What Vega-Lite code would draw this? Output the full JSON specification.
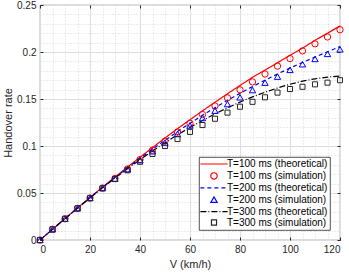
{
 "$schema": "https://vega.github.io/schema/vega-lite/v6.json",
 "width": 300, "height": 235,
 "autosize": {"type": "none"},
 "padding": {"left": 40, "top": 5, "right": 9, "bottom": 33},
 "config": {
  "view": {"stroke": "#262626", "strokeWidth": 0.8},
  "font": "Liberation Sans",
  "axis": {"labelFont": "Liberation Sans", "labelFontSize": 10, "labelColor": "#262626", "titleFont": "Liberation Sans", "titleFontSize": 11, "titleFontWeight": "normal", "titleColor": "#262626", "domain": false, "tickColor": "#262626", "tickSize": -3, "labelPadding": 7, "labelOverlap": false},
  "legend": {"orient": "bottom-right", "offset": 10, "padding": 2, "strokeColor": "#262626", "strokeWidth": 0.8, "fillColor": "white", "labelFont": "Liberation Sans", "labelFontSize": 10, "labelColor": "#000000", "symbolStrokeWidth": 1.2, "symbolSize": 40, "rowPadding": 0.9, "symbolFillColor": "transparent"}
 },
 "data": {"values": [
  {"s":"T=100 ms (theoretical)","V":0,"r":0},{"s":"T=100 ms (theoretical)","V":5,"r":0.0114},{"s":"T=100 ms (theoretical)","V":10,"r":0.0228},{"s":"T=100 ms (theoretical)","V":15,"r":0.0341},{"s":"T=100 ms (theoretical)","V":20,"r":0.0452},{"s":"T=100 ms (theoretical)","V":25,"r":0.0562},{"s":"T=100 ms (theoretical)","V":30,"r":0.067},{"s":"T=100 ms (theoretical)","V":35,"r":0.0776},{"s":"T=100 ms (theoretical)","V":40,"r":0.088},{"s":"T=100 ms (theoretical)","V":45,"r":0.0983},{"s":"T=100 ms (theoretical)","V":50,"r":0.1085},{"s":"T=100 ms (theoretical)","V":55,"r":0.1184},{"s":"T=100 ms (theoretical)","V":60,"r":0.128},{"s":"T=100 ms (theoretical)","V":65,"r":0.1374},{"s":"T=100 ms (theoretical)","V":70,"r":0.1466},{"s":"T=100 ms (theoretical)","V":75,"r":0.1556},{"s":"T=100 ms (theoretical)","V":80,"r":0.1644},{"s":"T=100 ms (theoretical)","V":85,"r":0.173},{"s":"T=100 ms (theoretical)","V":90,"r":0.1808},{"s":"T=100 ms (theoretical)","V":95,"r":0.1886},{"s":"T=100 ms (theoretical)","V":100,"r":0.1964},{"s":"T=100 ms (theoretical)","V":105,"r":0.2041},{"s":"T=100 ms (theoretical)","V":110,"r":0.2124},{"s":"T=100 ms (theoretical)","V":115,"r":0.22},{"s":"T=100 ms (theoretical)","V":120,"r":0.2277},
  {"s":"T=100 ms (simulation)","V":0,"r":0},{"s":"T=100 ms (simulation)","V":5,"r":0.0114},{"s":"T=100 ms (simulation)","V":10,"r":0.0226},{"s":"T=100 ms (simulation)","V":15,"r":0.0337},{"s":"T=100 ms (simulation)","V":20,"r":0.0447},{"s":"T=100 ms (simulation)","V":25,"r":0.0553},{"s":"T=100 ms (simulation)","V":30,"r":0.0655},{"s":"T=100 ms (simulation)","V":35,"r":0.0756},{"s":"T=100 ms (simulation)","V":40,"r":0.0856},{"s":"T=100 ms (simulation)","V":45,"r":0.0956},{"s":"T=100 ms (simulation)","V":50,"r":0.1052},{"s":"T=100 ms (simulation)","V":55,"r":0.1148},{"s":"T=100 ms (simulation)","V":60,"r":0.1242},{"s":"T=100 ms (simulation)","V":65,"r":0.1335},{"s":"T=100 ms (simulation)","V":70,"r":0.1426},{"s":"T=100 ms (simulation)","V":75,"r":0.1512},{"s":"T=100 ms (simulation)","V":80,"r":0.1598},{"s":"T=100 ms (simulation)","V":85,"r":0.1682},{"s":"T=100 ms (simulation)","V":90,"r":0.1766},{"s":"T=100 ms (simulation)","V":95,"r":0.185},{"s":"T=100 ms (simulation)","V":100,"r":0.193},{"s":"T=100 ms (simulation)","V":105,"r":0.2012},{"s":"T=100 ms (simulation)","V":110,"r":0.2087},{"s":"T=100 ms (simulation)","V":115,"r":0.216},{"s":"T=100 ms (simulation)","V":120,"r":0.2237},
  {"s":"T=200 ms (theoretical)","V":0,"r":0},{"s":"T=200 ms (theoretical)","V":5,"r":0.0114},{"s":"T=200 ms (theoretical)","V":10,"r":0.0227},{"s":"T=200 ms (theoretical)","V":15,"r":0.0339},{"s":"T=200 ms (theoretical)","V":20,"r":0.045},{"s":"T=200 ms (theoretical)","V":25,"r":0.0558},{"s":"T=200 ms (theoretical)","V":30,"r":0.0664},{"s":"T=200 ms (theoretical)","V":35,"r":0.0767},{"s":"T=200 ms (theoretical)","V":40,"r":0.0868},{"s":"T=200 ms (theoretical)","V":45,"r":0.0966},{"s":"T=200 ms (theoretical)","V":50,"r":0.1061},{"s":"T=200 ms (theoretical)","V":55,"r":0.1153},{"s":"T=200 ms (theoretical)","V":60,"r":0.1242},{"s":"T=200 ms (theoretical)","V":65,"r":0.1327},{"s":"T=200 ms (theoretical)","V":70,"r":0.1408},{"s":"T=200 ms (theoretical)","V":75,"r":0.1486},{"s":"T=200 ms (theoretical)","V":80,"r":0.156},{"s":"T=200 ms (theoretical)","V":85,"r":0.1632},{"s":"T=200 ms (theoretical)","V":90,"r":0.17},{"s":"T=200 ms (theoretical)","V":95,"r":0.1766},{"s":"T=200 ms (theoretical)","V":100,"r":0.1829},{"s":"T=200 ms (theoretical)","V":105,"r":0.1889},{"s":"T=200 ms (theoretical)","V":110,"r":0.1946},{"s":"T=200 ms (theoretical)","V":115,"r":0.2002},{"s":"T=200 ms (theoretical)","V":120,"r":0.2057},
  {"s":"T=200 ms (simulation)","V":0,"r":0},{"s":"T=200 ms (simulation)","V":5,"r":0.0114},{"s":"T=200 ms (simulation)","V":10,"r":0.0226},{"s":"T=200 ms (simulation)","V":15,"r":0.0337},{"s":"T=200 ms (simulation)","V":20,"r":0.0447},{"s":"T=200 ms (simulation)","V":25,"r":0.0553},{"s":"T=200 ms (simulation)","V":30,"r":0.0653},{"s":"T=200 ms (simulation)","V":35,"r":0.0752},{"s":"T=200 ms (simulation)","V":40,"r":0.0849},{"s":"T=200 ms (simulation)","V":45,"r":0.0944},{"s":"T=200 ms (simulation)","V":50,"r":0.1036},{"s":"T=200 ms (simulation)","V":55,"r":0.1128},{"s":"T=200 ms (simulation)","V":60,"r":0.1218},{"s":"T=200 ms (simulation)","V":65,"r":0.1298},{"s":"T=200 ms (simulation)","V":70,"r":0.1376},{"s":"T=200 ms (simulation)","V":75,"r":0.1446},{"s":"T=200 ms (simulation)","V":80,"r":0.1518},{"s":"T=200 ms (simulation)","V":85,"r":0.1595},{"s":"T=200 ms (simulation)","V":90,"r":0.1674},{"s":"T=200 ms (simulation)","V":95,"r":0.1738},{"s":"T=200 ms (simulation)","V":100,"r":0.181},{"s":"T=200 ms (simulation)","V":105,"r":0.187},{"s":"T=200 ms (simulation)","V":110,"r":0.1926},{"s":"T=200 ms (simulation)","V":115,"r":0.198},{"s":"T=200 ms (simulation)","V":120,"r":0.2028},
  {"s":"T=300 ms (theoretical)","V":0,"r":0},{"s":"T=300 ms (theoretical)","V":5,"r":0.0114},{"s":"T=300 ms (theoretical)","V":10,"r":0.0227},{"s":"T=300 ms (theoretical)","V":15,"r":0.0338},{"s":"T=300 ms (theoretical)","V":20,"r":0.0448},{"s":"T=300 ms (theoretical)","V":25,"r":0.0555},{"s":"T=300 ms (theoretical)","V":30,"r":0.0659},{"s":"T=300 ms (theoretical)","V":35,"r":0.0759},{"s":"T=300 ms (theoretical)","V":40,"r":0.0855},{"s":"T=300 ms (theoretical)","V":45,"r":0.0947},{"s":"T=300 ms (theoretical)","V":50,"r":0.1035},{"s":"T=300 ms (theoretical)","V":55,"r":0.1119},{"s":"T=300 ms (theoretical)","V":60,"r":0.1198},{"s":"T=300 ms (theoretical)","V":65,"r":0.1272},{"s":"T=300 ms (theoretical)","V":70,"r":0.1342},{"s":"T=300 ms (theoretical)","V":75,"r":0.1407},{"s":"T=300 ms (theoretical)","V":80,"r":0.1467},{"s":"T=300 ms (theoretical)","V":85,"r":0.1522},{"s":"T=300 ms (theoretical)","V":90,"r":0.1572},{"s":"T=300 ms (theoretical)","V":95,"r":0.1617},{"s":"T=300 ms (theoretical)","V":100,"r":0.1657},{"s":"T=300 ms (theoretical)","V":105,"r":0.169},{"s":"T=300 ms (theoretical)","V":110,"r":0.1715},{"s":"T=300 ms (theoretical)","V":115,"r":0.1733},{"s":"T=300 ms (theoretical)","V":120,"r":0.1745},
  {"s":"T=300 ms (simulation)","V":0,"r":0},{"s":"T=300 ms (simulation)","V":5,"r":0.0114},{"s":"T=300 ms (simulation)","V":10,"r":0.0226},{"s":"T=300 ms (simulation)","V":15,"r":0.0337},{"s":"T=300 ms (simulation)","V":20,"r":0.0445},{"s":"T=300 ms (simulation)","V":25,"r":0.055},{"s":"T=300 ms (simulation)","V":30,"r":0.0648},{"s":"T=300 ms (simulation)","V":35,"r":0.0742},{"s":"T=300 ms (simulation)","V":40,"r":0.0832},{"s":"T=300 ms (simulation)","V":45,"r":0.0915},{"s":"T=300 ms (simulation)","V":50,"r":0.1},{"s":"T=300 ms (simulation)","V":55,"r":0.1074},{"s":"T=300 ms (simulation)","V":60,"r":0.115},{"s":"T=300 ms (simulation)","V":65,"r":0.1223},{"s":"T=300 ms (simulation)","V":70,"r":0.129},{"s":"T=300 ms (simulation)","V":75,"r":0.1355},{"s":"T=300 ms (simulation)","V":80,"r":0.1418},{"s":"T=300 ms (simulation)","V":85,"r":0.147},{"s":"T=300 ms (simulation)","V":90,"r":0.1518},{"s":"T=300 ms (simulation)","V":95,"r":0.1568},{"s":"T=300 ms (simulation)","V":100,"r":0.1606},{"s":"T=300 ms (simulation)","V":105,"r":0.163},{"s":"T=300 ms (simulation)","V":110,"r":0.1656},{"s":"T=300 ms (simulation)","V":115,"r":0.1674},{"s":"T=300 ms (simulation)","V":120,"r":0.17}
 ]},
 "layer": [
  {
   "transform": [{"filter": "indexof(datum.s, 'theoretical') >= 0"}],
   "mark": {"type": "line", "strokeWidth": 1.2},
   "encoding": {
    "x": {"field": "V", "type": "quantitative", "scale": {"domain": [0, 120], "nice": false},
     "axis": {"title": "V (km/h)", "titlePadding": 4, "format": "~g",
      "values": [0,5,10,15,20,25,30,35,40,45,50,55,60,65,70,75,80,85,90,95,100,105,110,115,120],
      "labelExpr": "datum.value % 20 === 0 ? datum.label : ''",
      "grid": true,
      "gridColor": {"condition": {"test": "datum.value % 20 === 0", "value": "#dedede"}, "value": "#d8d8d8"},
      "gridDash": {"condition": {"test": "datum.value % 20 === 0", "value": []}, "value": [1, 2]},
      "tickOpacity": {"condition": {"test": "datum.value % 20 === 0", "value": 1}, "value": 0}}},
    "y": {"field": "r", "type": "quantitative", "scale": {"domain": [0, 0.25], "nice": false},
     "axis": {"title": "Handover rate", "titlePadding": 3, "format": "~g",
      "values": [0,0.01,0.02,0.03,0.04,0.05,0.06,0.07,0.08,0.09,0.1,0.11,0.12,0.13,0.14,0.15,0.16,0.17,0.18,0.19,0.2,0.21,0.22,0.23,0.24,0.25],
      "labelExpr": "round(datum.value * 100) % 5 === 0 ? datum.label : ''",
      "grid": true,
      "gridColor": {"condition": {"test": "round(datum.value * 100) % 5 === 0", "value": "#dedede"}, "value": "#d8d8d8"},
      "gridDash": {"condition": {"test": "round(datum.value * 100) % 5 === 0", "value": []}, "value": [1, 2]},
      "tickOpacity": {"condition": {"test": "round(datum.value * 100) % 5 === 0", "value": 1}, "value": 0}}},
    "color": {"field": "s", "type": "nominal",
     "scale": {"domain": ["T=100 ms (theoretical)","T=100 ms (simulation)","T=200 ms (theoretical)","T=200 ms (simulation)","T=300 ms (theoretical)","T=300 ms (simulation)"],
      "range": ["#ff0000","#ff0000","#0000ff","#0000ff","#000000","#262626"]},
     "legend": {"title": null, "symbolOffset": 8, "labelOffset": 8}},
    "strokeDash": {"field": "s", "type": "nominal",
     "scale": {"domain": ["T=100 ms (theoretical)","T=100 ms (simulation)","T=200 ms (theoretical)","T=200 ms (simulation)","T=300 ms (theoretical)","T=300 ms (simulation)"],
      "range": [[1,0],[1,0],[4,3],[1,0],[6,2,1,2],[1,0]]},
     "legend": {"title": null, "symbolOffset": 8, "labelOffset": 8}}
   }
  },
  {
   "transform": [{"filter": "indexof(datum.s, 'simulation') >= 0"}],
   "mark": {"type": "point", "filled": false, "size": 40, "strokeWidth": 1, "opacity": 1},
   "encoding": {
    "x": {"field": "V", "type": "quantitative",
     "axis": {"orient": "top", "labels": false, "title": null, "grid": false, "values": [0,20,40,60,80,100,120]}},
    "y": {"field": "r", "type": "quantitative",
     "axis": {"orient": "right", "labels": false, "title": null, "grid": false, "values": [0,0.05,0.1,0.15,0.2,0.25]}},
    "color": {"field": "s", "type": "nominal", "legend": {"title": null, "symbolOffset": 8, "labelOffset": 8}},
    "shape": {"field": "s", "type": "nominal",
     "scale": {"domain": ["T=100 ms (theoretical)","T=100 ms (simulation)","T=200 ms (theoretical)","T=200 ms (simulation)","T=300 ms (theoretical)","T=300 ms (simulation)"],
      "range": ["M-4.3,0H4.3","circle","M-4.3,0H4.3","triangle-up","M-4.3,0H4.3","M-0.8,-0.8H0.8V0.8H-0.8Z"]},
     "legend": {"title": null, "symbolOffset": 8, "labelOffset": 8}}
   }
  }
 ],
 "resolve": {"axis": {"x": "independent", "y": "independent"}}
}
